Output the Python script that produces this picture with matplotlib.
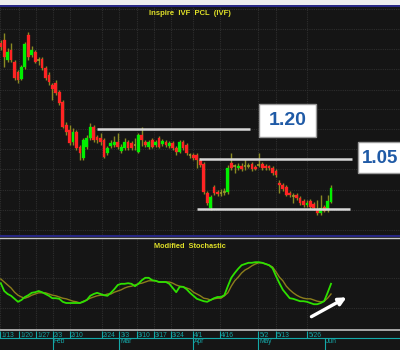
import matplotlib
matplotlib.use("Agg")
import matplotlib.pyplot as plt
from matplotlib.patches import Rectangle, FancyArrowPatch
from matplotlib.lines import Line2D

# ---------------- data ----------------
opens = [1.633,1.648,1.548,1.598,1.538,1.488,1.453,1.513,1.673,1.573,
         1.588,1.548,1.553,1.508,1.473,1.423,1.433,1.388,1.338,1.223,
         1.198,1.138,1.188,1.113,1.058,1.113,1.158,1.213,1.163,1.158,
         1.148,1.083,1.118,1.123,1.138,1.093,1.108,1.138,1.133,1.123,
         1.088,1.173,1.138,1.113,1.148,1.123,1.158,1.128,1.138,1.118,
         1.133,1.108,1.088,1.138,1.123,1.073,1.073,1.073,1.048,1.028,
         0.883,0.808,0.913,0.888,0.883,0.886,0.888,1.033,1.018,1.008,
         1.018,1.018,1.018,1.028,1.013,1.023,1.028,1.018,1.018,1.008,
         0.993,0.933,0.923,0.913,0.883,0.868,0.873,0.858,0.843,0.823,
         0.843,0.828,0.798,0.783,0.813,0.798,0.838]
highs = [1.648,1.683,1.608,1.633,1.548,1.498,1.523,1.638,1.688,1.618,
         1.598,1.563,1.563,1.518,1.488,1.433,1.448,1.398,1.348,1.238,
         1.223,1.208,1.198,1.123,1.158,1.173,1.233,1.223,1.173,1.183,
         1.158,1.118,1.148,1.168,1.183,1.128,1.158,1.148,1.143,1.158,
         1.183,1.213,1.148,1.148,1.158,1.148,1.168,1.153,1.148,1.143,
         1.143,1.118,1.148,1.148,1.133,1.083,1.083,1.083,1.058,1.038,
         0.893,0.873,0.923,0.898,0.903,0.908,1.023,1.083,1.028,1.033,
         1.033,1.053,1.033,1.038,1.023,1.083,1.038,1.028,1.023,1.018,
         1.003,0.948,0.933,0.923,0.893,0.883,0.883,0.868,0.853,0.848,
         0.853,0.838,0.848,0.873,0.823,0.873,0.923]
lows = [1.598,1.513,1.538,1.538,1.448,1.433,1.448,1.503,1.548,1.563,
        1.533,1.523,1.498,1.448,1.423,1.348,1.373,1.323,1.208,1.173,
        1.123,1.123,1.098,1.048,1.048,1.103,1.148,1.138,1.133,1.123,
        1.058,1.073,1.108,1.113,1.103,1.083,1.098,1.098,1.098,1.098,
        1.083,1.118,1.113,1.103,1.108,1.113,1.108,1.118,1.113,1.108,
        1.098,1.073,1.083,1.098,1.073,1.058,1.048,1.008,1.013,0.878,
        0.823,0.798,0.873,0.868,0.868,0.873,0.878,0.998,0.983,0.998,
        0.993,0.998,1.008,0.993,0.998,1.013,0.998,0.998,0.998,0.973,
        0.963,0.883,0.893,0.868,0.863,0.833,0.848,0.823,0.813,0.813,
        0.803,0.798,0.773,0.773,0.788,0.788,0.833]
closes = [1.613,1.563,1.588,1.548,1.458,1.448,1.513,1.628,1.563,1.598,
          1.538,1.548,1.508,1.458,1.438,1.403,1.383,1.333,1.213,1.188,
          1.133,1.188,1.108,1.083,1.148,1.158,1.213,1.148,1.148,1.138,
          1.063,1.108,1.133,1.138,1.113,1.113,1.138,1.108,1.108,1.123,
          1.173,1.148,1.123,1.138,1.113,1.138,1.113,1.143,1.123,1.133,
          1.108,1.088,1.138,1.108,1.083,1.073,1.058,1.048,1.023,0.888,
          0.833,0.863,0.883,0.878,0.883,0.886,1.008,1.008,1.018,1.018,
          1.003,1.018,1.018,1.003,1.003,1.023,1.008,1.008,1.008,0.983,
          0.973,0.923,0.903,0.873,0.873,0.868,0.858,0.833,0.823,0.833,
          0.813,0.808,0.783,0.808,0.793,0.843,0.908]

stoch_fast = [58,45,40,37,32,27,30,35,38,42,43,45,43,40,37,33,33,32,27,25,
              25,25,25,25,27,30,37,40,42,40,38,37,42,48,55,57,57,58,57,53,
              57,63,67,67,63,62,60,60,60,57,50,43,52,52,48,42,37,32,30,28,
              27,30,33,35,35,38,53,67,75,82,88,90,92,92,93,93,92,90,88,83,
              70,58,47,40,33,32,30,28,28,27,25,23,23,25,28,42,57]
stoch_slow = [65,60,55,50,43,38,35,33,35,38,40,42,42,42,40,38,37,35,33,32,
              30,28,27,25,28,30,33,35,37,38,38,40,40,43,45,47,50,52,53,55,
              57,58,60,62,62,62,60,60,60,60,58,55,53,52,50,48,43,40,37,33,
              32,30,32,33,33,37,42,53,62,68,75,80,83,87,90,92,92,90,88,85,
              77,68,62,53,47,42,38,35,33,32,32,30,28,27,28,33,40]

week_labels = ["1/13","1/20","1/27","2/3","2/10","2/24","3/3","3/10","3/17",
               "3/24","4/1","4/16","5/2","5/13","5/26"]
week_pos = [-0.2,5.3,10.2,15.1,20.1,29.3,34.5,39.5,44.5,49.5,55.8,63.7,74.9,80.0,89.1]
month_labels = ["Feb","Mar","Apr","May","Jun"]
month_pos = [15.1,34.5,55.8,74.9,94.2]

levels = [1.20, 1.05, 0.80]
level_spans = [(27.9, 72.4), (57.6, 102.0), (57.0, 101.5)]
level_texts = ["1.20", "1.05"]

# ---------------- style ----------------
BG = "#151515"
GRID = "#2e2e2e"
WICK = "#8a8a22"
RED = "#ff2424"
GREEN = "#00f000"
DOJI = "#9a9a2a"
TEAL = "#14a8a8"
YELLOW = "#e0e028"

W, H = 400, 350
fig = plt.figure(figsize=(4, 3.5), dpi=100, facecolor=BG)

def fx(x):
    return x / W

def fy(y):
    return 1 - y / H

xlim = (-0.23, 116.05)

# main price panel
ax = fig.add_axes([0, fy(235), 1, (235 - 7) / H])
ax.set_facecolor(BG)
ax.set_xlim(*xlim)
ax.set_ylim(0.6725, 1.8125)
for s in ax.spines.values():
    s.set_visible(False)
ax.set_xticks([]); ax.set_yticks([])
for p in [0.7 + 0.1 * k for k in range(12)]:
    ax.axhline(p, color=GRID, lw=0.8, ls=(0, (1, 1)), zorder=0)
for xp in week_pos:
    ax.axvline(xp, color=GRID, lw=0.8, ls=(0, (1, 1)), zorder=0)

bw = 0.8
for i, (o, h, l, c) in enumerate(zip(opens, highs, lows, closes)):
    ax.vlines(i, l, h, color=WICK, lw=1.0, zorder=2)
    if abs(c - o) < 1e-9:
        ax.hlines(o, i - bw / 2, i + bw / 2, color=DOJI, lw=1.2, zorder=3)
    else:
        col = GREEN if c > o else RED
        ax.bar(i, abs(c - o), bottom=min(o, c), width=bw, color=col,
               edgecolor=col, lw=0.2, zorder=3)

for lv, (a, b) in zip(levels, level_spans):
    ax.hlines(lv, a, b, color="#d8d8d8", lw=1.8, zorder=4)

ax.text(0.475, 0.985, "Inspire  IVF  PCL  (IVF)", transform=ax.transAxes,
        ha="center", va="top", color=YELLOW, fontsize=5.5, fontweight="bold",
        family="Liberation Sans")

# level boxes (in figure pixel coordinates)
box_specs = [(259, 104, 57, 33), (358, 142, 50, 31)]
for (bx, by, bwid, bh), txt in zip(box_specs, level_texts):
    fig.patches.append(Rectangle((fx(bx), fy(by + bh)), bwid / W, bh / H,
                                 transform=fig.transFigure, facecolor="white",
                                 edgecolor="#9a9a9a", lw=1.0, zorder=5))
fig.text(fx(287.5), fy(121), level_texts[0], ha="center", va="center",
         color="#1f5aa6", fontsize=14, fontweight="bold",
         family="Liberation Sans", zorder=6)
fig.text(fx(362), fy(158.5), level_texts[1], ha="left", va="center",
         color="#1f5aa6", fontsize=13.5, fontweight="bold",
         family="Liberation Sans", zorder=6)

# stochastic panel
ax2 = fig.add_axes([0, fy(329), 1, (329 - 238) / H])
ax2.set_facecolor(BG)
ax2.set_xlim(*xlim)
ax2.set_ylim(-18.3, 133.3)
for s in ax2.spines.values():
    s.set_visible(False)
ax2.set_xticks([]); ax2.set_yticks([])
for v in [16.7, 66.7]:
    ax2.axhline(v, color=GRID, lw=0.8, ls=(0, (1, 1)), zorder=0)
for xp in week_pos:
    ax2.axvline(xp, color=GRID, lw=0.8, ls=(0, (1, 1)), zorder=0)
idx = list(range(len(stoch_fast)))
ax2.plot(idx, stoch_slow, color="#8c7e1c", lw=1.0, zorder=2)
ax2.plot(idx, stoch_fast, color="#2ee000", lw=1.3, zorder=3)
ax2.text(0.475, 0.94, "Modified  Stochastic", transform=ax2.transAxes,
         ha="center", va="top", color=YELLOW, fontsize=5.3, fontweight="bold",
         family="Liberation Sans")

# date axis
ax3 = fig.add_axes([0, 0, 1, 21 / H])
ax3.set_facecolor(BG)
ax3.set_xlim(*xlim)
ax3.set_ylim(0, 21)
for s in ax3.spines.values():
    s.set_visible(False)
ax3.set_xticks([]); ax3.set_yticks([])
ax3.axhline(12.5, color=TEAL, lw=0.8)
for xp, lab in zip(week_pos, week_labels):
    ax3.vlines(xp, 12.5, 19.5, color=TEAL, lw=0.8)
    ax3.text(xp + 0.35, 13.2, lab, color=TEAL, fontsize=4.8,
             family="Liberation Sans", ha="left", va="baseline")
for xp, lab in zip(month_pos, month_labels):
    ax3.vlines(xp, 0, 12.5, color=TEAL, lw=0.8)
    ax3.text(xp + 0.35, 6.8, lab, color=TEAL, fontsize=4.8,
             family="Liberation Sans", ha="left", va="baseline")

# frame strips / separators
fig.patches.append(Rectangle((0, fy(5)), 1, 5 / H, transform=fig.transFigure,
                             facecolor="#eeeeee", edgecolor="none", zorder=1))
for y, col, lw in [(5.8, "#2a2a8a", 1.4), (236.2, "#2a2a9a", 1.2),
                   (237.6, "#c8c8c8", 1.0), (329.6, "#a8a8a8", 1.4)]:
    fig.add_artist(Line2D([0, 1], [fy(y), fy(y)], transform=fig.transFigure,
                          color=col, lw=lw, zorder=7))

# arrow
arrow = FancyArrowPatch((fx(309), fy(318)), (fx(349), fy(296)),
                        transform=fig.transFigure, arrowstyle="-|>",
                        mutation_scale=11, color="white", lw=2.4, zorder=8)
fig.patches.append(arrow)

fig.savefig("out.png", dpi=100, facecolor=BG)
